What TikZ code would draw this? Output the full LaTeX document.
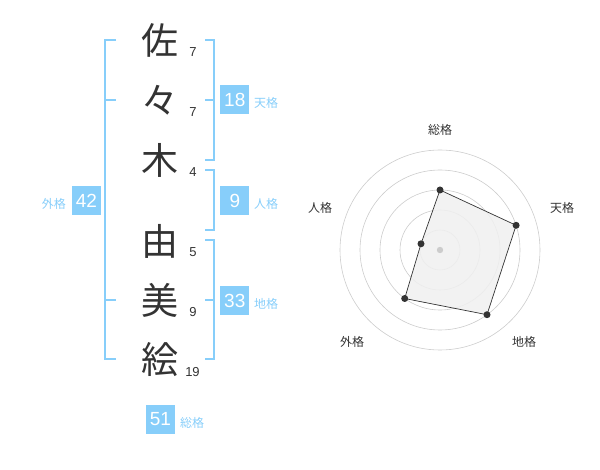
\documentclass[tikz,border=0pt]{standalone}
\usepackage{fontspec}
\setmainfont{Liberation Sans}
\newfontfamily\jp{Noto Sans CJK JP}
\definecolor{sky}{HTML}{87CEFA}
\definecolor{ink}{HTML}{333333}
\definecolor{ring}{HTML}{CCCCCC}
\definecolor{fillg}{HTML}{F0F0F0}
\tikzset{
  kanji/.style={inner sep=0pt, text=ink, font=\jp\fontsize{37}{40}\selectfont},
  strokes/.style={inner sep=0pt, text=ink, font=\fontsize{13}{14}\selectfont},
  bracket/.style={draw=sky, line width=1.8pt},
  numbox/.style={fill=sky, text=white, minimum width=29pt, minimum height=29pt, inner sep=0pt, font=\fontsize{19}{20}\selectfont},
  kaku/.style={text=sky, inner sep=0pt, font=\jp\fontsize{12}{14}\selectfont},
  radlabel/.style={text=ink, inner sep=0pt, font=\jp\fontsize{12}{14}\selectfont},
  ringline/.style={draw=ring, line width=0.6pt},
  dot/.style={circle, fill=ink, inner sep=0pt, minimum size=7pt},
}
\begin{document}
\begin{tikzpicture}[x=1pt,y=-1pt]
\useasboundingbox (0,0) rectangle (600,470);
% characters
\node[kanji] (c1) at (160,40) {佐};
\node[kanji] (c2) at (160,100) {々};
\node[kanji] (c3) at (160,160) {木};
\node[kanji] (c4) at (160,241) {由};
\node[kanji] (c5) at (160,300) {美};
\node[kanji] (c6) at (160,360) {絵};
% stroke counts
\node[strokes] (s1) at (193,52.5) {7};
\node[strokes] (s2) at (193,112.5) {7};
\node[strokes] (s3) at (193,172.5) {4};
\node[strokes] (s4) at (193,252.5) {5};
\node[strokes] (s5) at (193,312.5) {9};
\node[strokes] (s6) at (192.5,372.5) {19};
% brackets
\draw[bracket] (116,40) -- (105,40) -- (105,359) -- (116,359);
\draw[bracket] (105,100) -- (116,100);
\draw[bracket] (105,300) -- (116,300);
\draw[bracket] (205,40) -- (214,40) -- (214,160) -- (205,160);
\draw[bracket] (205,100) -- (214,100);
\draw[bracket] (205,170) -- (214,170) -- (214,230) -- (205,230);
\draw[bracket] (205,240) -- (214,240) -- (214,359) -- (205,359);
\draw[bracket] (205,300) -- (214,300);
% boxes
\node[numbox] (ten) at (234.8,100) {18};
\node[kaku, anchor=west] (tenl) at (254,103) {天格};
\node[numbox] (jin) at (234.8,200.5) {9};
\node[kaku, anchor=west] (jinl) at (254,203.5) {人格};
\node[numbox] (chi) at (234.8,300.5) {33};
\node[kaku, anchor=west] (chil) at (254,303.5) {地格};
\node[numbox] (gai) at (86.5,200.5) {42};
\node[kaku, anchor=east] (gail) at (66,203.5) {外格};
\node[numbox] (sou) at (160.5,419) {51};
\node[kaku, anchor=west] (soul) at (180,422.5) {総格};
% radar
\coordinate (ctr) at (440,250);
\foreach \r in {20,40,60,80,100} \draw[ringline] (ctr) circle[radius=\r];
\coordinate (pS) at (440,190);
\coordinate (pT) at (516.1,225.3);
\coordinate (pC) at (487.0,314.7);
\coordinate (pG) at (404.7,298.5);
\coordinate (pJ) at (421.0,243.8);
\filldraw[fill=fillg, fill opacity=0.85, draw=ink, line width=0.7pt] (pS) -- (pT) -- (pC) -- (pG) -- (pJ) -- cycle;
\fill[ring] (ctr) circle[radius=3.2];
\foreach \p in {pS,pT,pC,pG,pJ} \node[dot] at (\p) {};
\node[radlabel] (lS) at (440,130) {総格};
\node[radlabel] (lT) at (562,208) {天格};
\node[radlabel] (lC) at (524,342) {地格};
\node[radlabel] (lG) at (352,342) {外格};
\node[radlabel] (lJ) at (320,208) {人格};
\end{tikzpicture}
\end{document}
